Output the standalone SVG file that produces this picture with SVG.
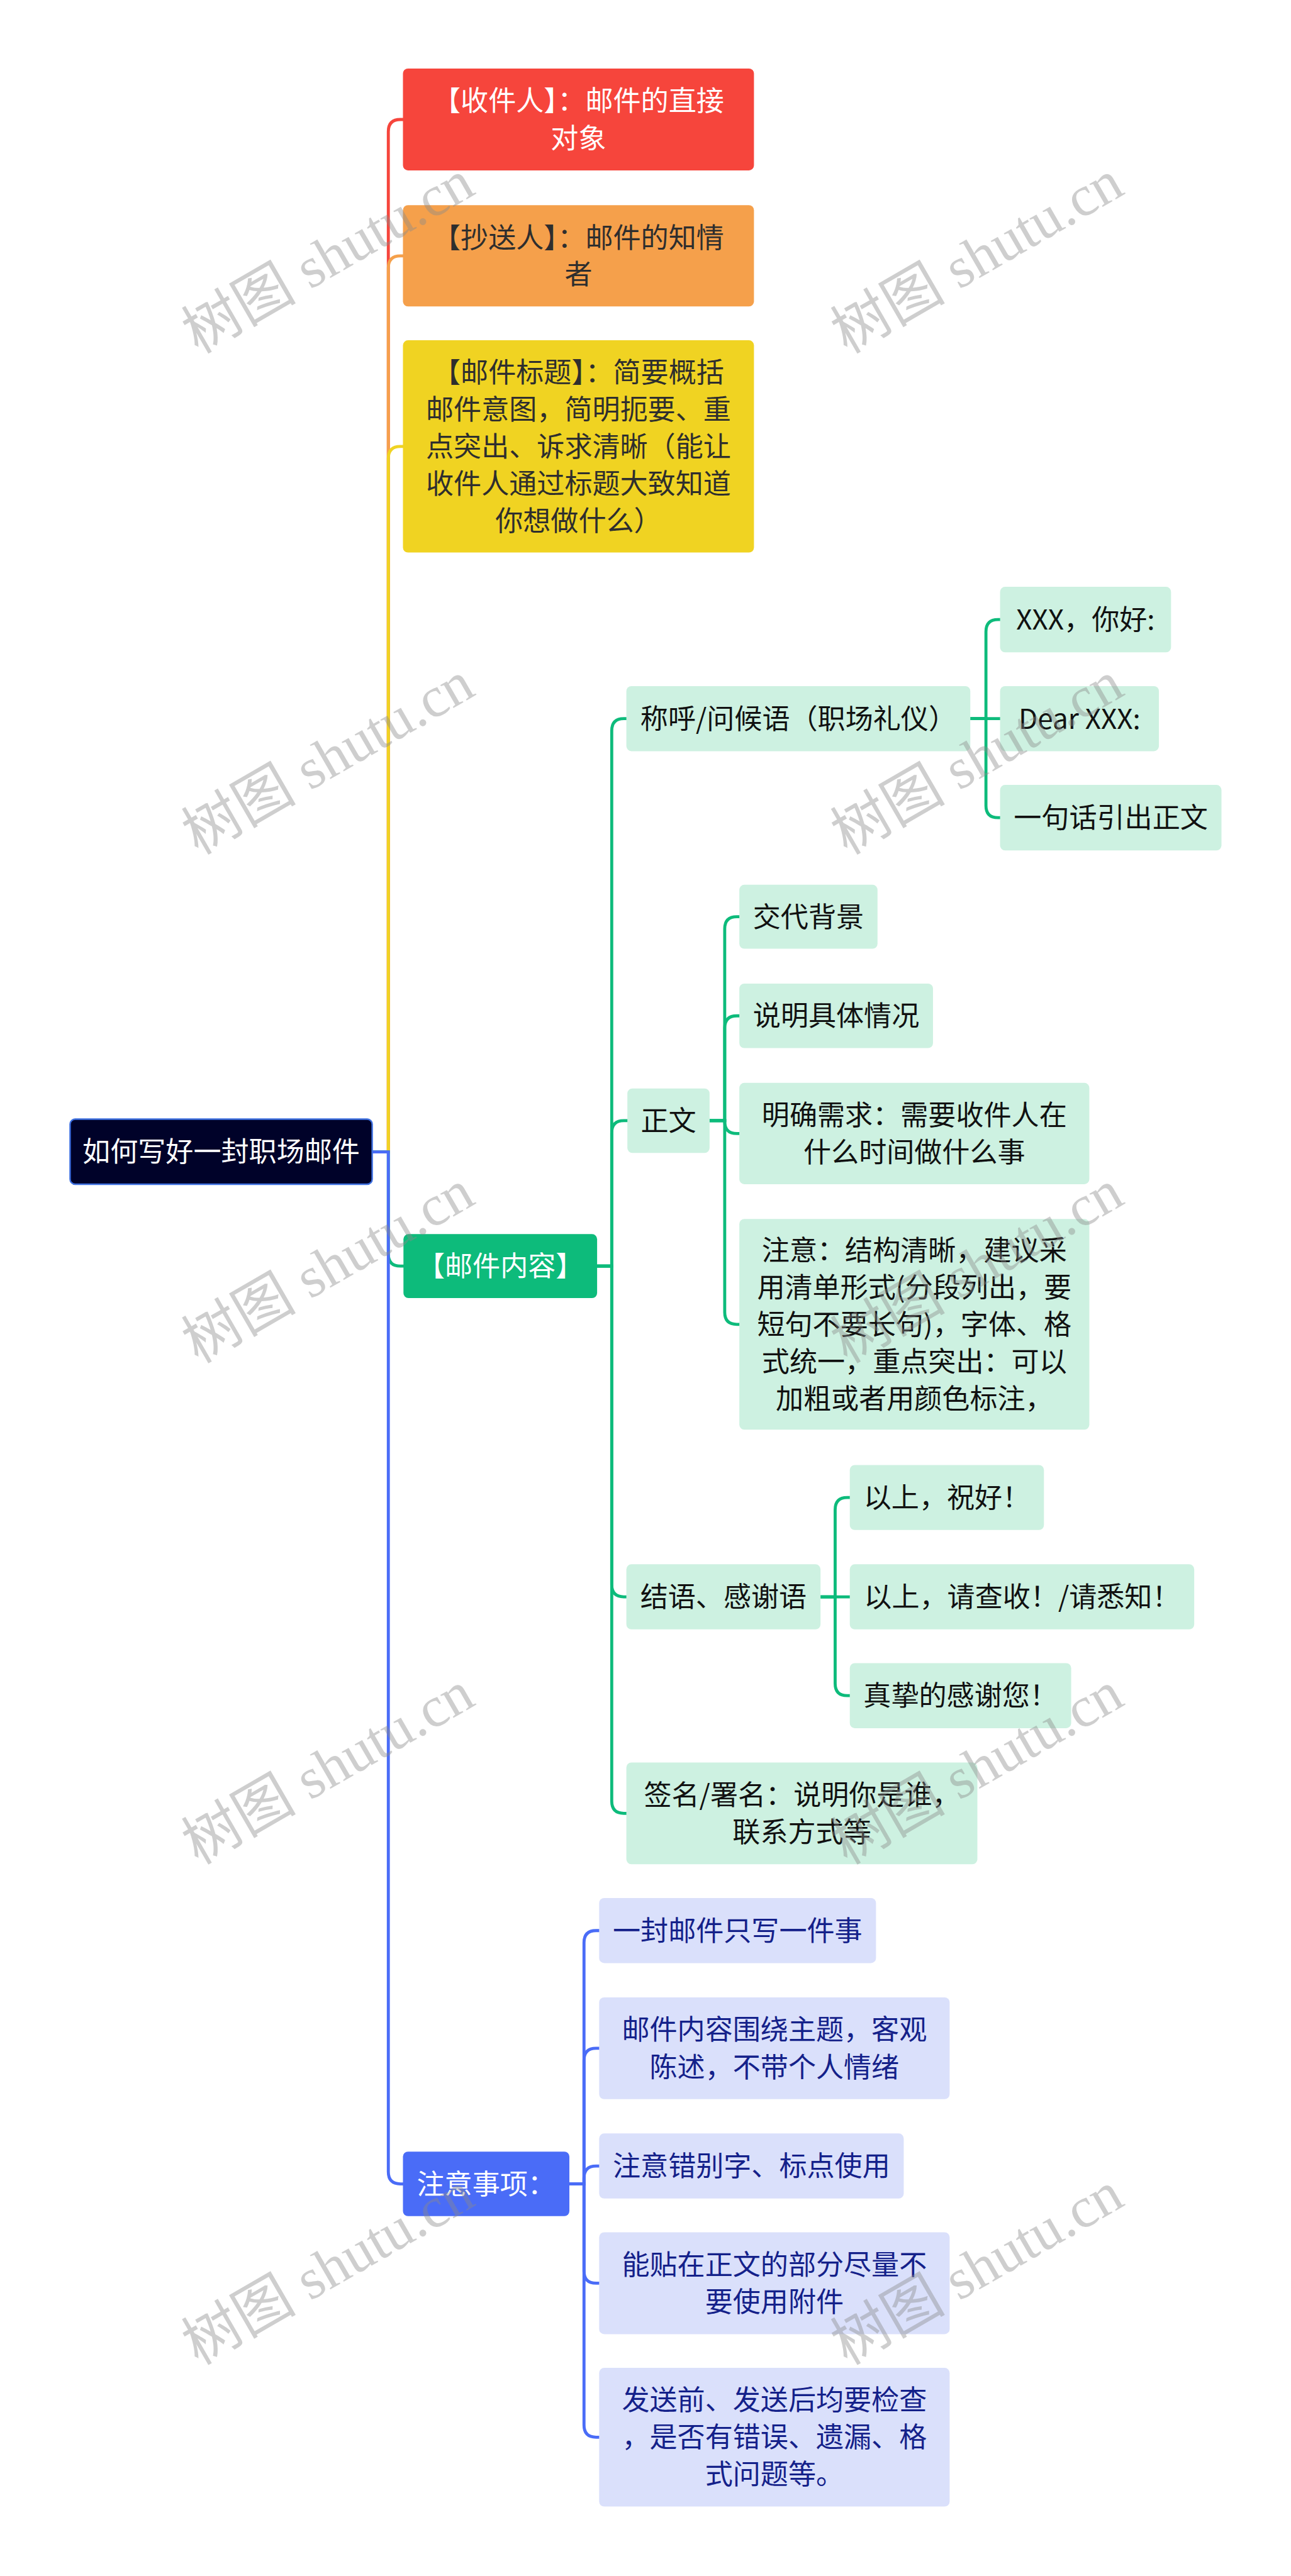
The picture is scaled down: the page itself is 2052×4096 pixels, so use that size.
<svg xmlns="http://www.w3.org/2000/svg" width="2052" height="4096" viewBox="0 0 2052 4096">
<style>
.t{font-family:"Noto Sans CJK SC","Noto Sans",sans-serif;font-size:55px;text-anchor:middle}
.w{fill:#ffffff}.d{fill:#2e2e2e}.k{fill:#111111}.n{fill:#14218a}
.c{fill:none;stroke-width:6}
.r{stroke:#f6453c}.o{stroke:#f5a04b}.y{stroke:#f0d322}.g{stroke:#0dbb7b}.b{stroke:#4a6cf7}
.lg{fill:#cdf1e1}.lb{fill:#dae0fb}
.wm{font-family:"Liberation Serif","Noto Sans CJK SC",serif;font-size:114px;fill:#8a8a8a;fill-opacity:0.42;text-anchor:middle}
</style>
<rect width="2052" height="4096" fill="#ffffff"/>
<g transform="scale(0.8016)">
<g id="connectors">
<path class="c r" d="M738 2285 H770 V261 Q770 237 794 237 H802"/>
<path class="c o" d="M738 2285 H770 V531.5 Q770 507.5 794 507.5 H802"/>
<path class="c y" d="M738 2285 H770 V909.5 Q770 885.5 794 885.5 H802"/>
<path class="c g" d="M738 2285 H770 V2487.5 Q770 2511.5 794 2511.5 H803"/>
<path class="c b" d="M738 2285 H770 V4308 Q770 4332 794 4332 H802"/>
<path class="c g" d="M1184 2511.5 H1213 V1449.5 Q1213 1425.5 1237 1425.5 H1245"/>
<path class="c g" d="M1184 2511.5 H1213 V2247 Q1213 2223 1237 2223 H1247"/>
<path class="c g" d="M1184 2511.5 H1213 V3143.5 Q1213 3167.5 1237 3167.5 H1245"/>
<path class="c g" d="M1184 2511.5 H1213 V3573 Q1213 3597 1237 3597 H1245"/>
<path class="c g" d="M1924 1425.5 H1955 V1253 Q1955 1229 1979 1229 H1986"/>
<path class="c g" d="M1924 1425.5 H1986"/>
<path class="c g" d="M1924 1425.5 H1955 V1598 Q1955 1622 1979 1622 H1986"/>
<path class="c g" d="M1407 2223 H1437 V1842.5 Q1437 1818.5 1461 1818.5 H1469"/>
<path class="c g" d="M1407 2223 H1437 V2039 Q1437 2015 1461 2015 H1469"/>
<path class="c g" d="M1407 2223 H1437 V2224.5 Q1437 2248.5 1461 2248.5 H1469"/>
<path class="c g" d="M1407 2223 H1437 V2603 Q1437 2627 1461 2627 H1469"/>
<path class="c g" d="M1627 3167.5 H1656 V2994.5 Q1656 2970.5 1680 2970.5 H1688"/>
<path class="c g" d="M1627 3167.5 H1688"/>
<path class="c g" d="M1627 3167.5 H1656 V3339.5 Q1656 3363.5 1680 3363.5 H1688"/>
<path class="c b" d="M1129 4332 H1158 V3853.5 Q1158 3829.5 1182 3829.5 H1191"/>
<path class="c b" d="M1129 4332 H1158 V4087 Q1158 4063 1182 4063 H1191"/>
<path class="c b" d="M1129 4332 H1158 V4320.5 Q1158 4296.5 1182 4296.5 H1191"/>
<path class="c b" d="M1129 4332 H1158 V4505 Q1158 4529 1182 4529 H1191"/>
<path class="c b" d="M1129 4332 H1158 V4810.5 Q1158 4834.5 1182 4834.5 H1191"/>
</g>
<g id="n-recipient"><rect x="799" y="136" width="696" height="202" rx="10" fill="#f6453c"/><text class="t w" x="1147" y="220">【收件人】：邮件的直接</text><text class="t w" x="1147" y="294">对象</text></g>
<g id="n-cc"><rect x="799" y="407" width="696" height="201" rx="10" fill="#f5a04b"/><text class="t d" x="1147" y="491">【抄送人】：邮件的知情</text><text class="t d" x="1147" y="564">者</text></g>
<g id="n-subject"><rect x="799" y="675" width="696" height="421" rx="10" fill="#f0d322"/><text class="t d" x="1147" y="758.5">【邮件标题】：简要概括</text><text class="t d" x="1147" y="832">邮件意图，简明扼要、重</text><text class="t d" x="1147" y="905.5">点突出、诉求清晰（能让</text><text class="t d" x="1147" y="979">收件人通过标题大致知道</text><text class="t d" x="1147" y="1052.5">你想做什么）</text></g>
<g id="n-root"><rect x="139" y="2220" width="599" height="129" rx="10" fill="#000229" stroke="#3d6fe0" stroke-width="3"/><text class="t w" x="438.5" y="2304.5">如何写好一封职场邮件</text></g>
<g id="n-content"><rect x="800" y="2448" width="384" height="127" rx="10" fill="#0dbb7b"/><text class="t w" x="992" y="2531.5">【邮件内容】</text></g>
<g id="n-notes"><rect x="799" y="4268" width="330" height="128" rx="10" fill="#4a6cf7"/><text class="t w" x="964" y="4352">注意事项：</text></g>
<g id="n-greeting"><rect class="lg" x="1242" y="1361" width="682" height="129" rx="10"/><text class="t k" x="1583" y="1445.5">称呼/问候语（职场礼仪）</text></g>
<g id="n-xxx"><rect class="lg" x="1983" y="1164" width="339" height="130" rx="10"/><text class="t k" x="2152.5" y="1249">XXX，你好:</text></g>
<g id="n-dear"><rect class="lg" x="1983" y="1361" width="315" height="129" rx="10"/><text class="t k" x="2140.5" y="1445.5">Dear XXX:</text></g>
<g id="n-lead"><rect class="lg" x="1983" y="1557" width="439" height="130" rx="10"/><text class="t k" x="2202.5" y="1642">一句话引出正文</text></g>
<g id="n-body"><rect class="lg" x="1244" y="2159" width="163" height="128" rx="10"/><text class="t k" x="1325.5" y="2243">正文</text></g>
<g id="n-bg"><rect class="lg" x="1466" y="1755" width="274" height="127" rx="10"/><text class="t k" x="1603" y="1838.5">交代背景</text></g>
<g id="n-detail"><rect class="lg" x="1466" y="1951" width="384" height="128" rx="10"/><text class="t k" x="1658" y="2035">说明具体情况</text></g>
<g id="n-need"><rect class="lg" x="1466" y="2148" width="694" height="201" rx="10"/><text class="t k" x="1813" y="2232">明确需求：需要收件人在</text><text class="t k" x="1813" y="2305">什么时间做什么事</text></g>
<g id="n-note"><rect class="lg" x="1466" y="2418" width="694" height="418" rx="10"/><text class="t k" x="1813" y="2500">注意：结构清晰，建议采</text><text class="t k" x="1813" y="2573.5">用清单形式(分段列出，要</text><text class="t k" x="1813" y="2647">短句不要长句)，字体、格</text><text class="t k" x="1813" y="2720.5">式统一，重点突出：可以</text><text class="t k" x="1813" y="2794">加粗或者用颜色标注，</text></g>
<g id="n-closing"><rect class="lg" x="1242" y="3103" width="385" height="129" rx="10"/><text class="t k" x="1434.5" y="3187.5">结语、感谢语</text></g>
<g id="n-regards"><rect class="lg" x="1685" y="2906" width="385" height="129" rx="10"/><text class="t k" x="1877.5" y="2990.5">以上，祝好！</text></g>
<g id="n-check"><rect class="lg" x="1685" y="3103" width="683" height="129" rx="10"/><text class="t k" x="2026.5" y="3187.5">以上，请查收！/请悉知！</text></g>
<g id="n-thanks"><rect class="lg" x="1685" y="3299" width="439" height="129" rx="10"/><text class="t k" x="1904.5" y="3383.5">真挚的感谢您！</text></g>
<g id="n-sign"><rect class="lg" x="1242" y="3496" width="696" height="202" rx="10"/><text class="t k" x="1590" y="3580">签名/署名：说明你是谁，</text><text class="t k" x="1590" y="3654">联系方式等</text></g>
<g id="n-one"><rect class="lb" x="1188" y="3765" width="549" height="129" rx="10"/><text class="t n" x="1462.5" y="3849.5">一封邮件只写一件事</text></g>
<g id="n-topic"><rect class="lb" x="1188" y="3962" width="695" height="202" rx="10"/><text class="t n" x="1535.5" y="4046">邮件内容围绕主题，客观</text><text class="t n" x="1535.5" y="4120">陈述，不带个人情绪</text></g>
<g id="n-typo"><rect class="lb" x="1188" y="4232" width="604" height="129" rx="10"/><text class="t n" x="1490" y="4316.5">注意错别字、标点使用</text></g>
<g id="n-attach"><rect class="lb" x="1188" y="4428" width="695" height="202" rx="10"/><text class="t n" x="1535.5" y="4512">能贴在正文的部分尽量不</text><text class="t n" x="1535.5" y="4586">要使用附件</text></g>
<g id="n-send"><rect class="lb" x="1188" y="4697" width="695" height="275" rx="10"/><text class="t n" x="1535.5" y="4781">发送前、发送后均要检查</text><text class="t n" x="1535.5" y="4854.5">，是否有错误、遗漏、格</text><text class="t n" x="1535.5" y="4928">式问题等。</text></g>
<g id="watermark">
<text class="wm" x="651" y="548" transform="rotate(-30 651 511)">树图 shutu.cn</text>
<text class="wm" x="1938" y="548" transform="rotate(-30 1938 511)">树图 shutu.cn</text>
<text class="wm" x="651" y="1542" transform="rotate(-30 651 1505)">树图 shutu.cn</text>
<text class="wm" x="1938" y="1542" transform="rotate(-30 1938 1505)">树图 shutu.cn</text>
<text class="wm" x="651" y="2551" transform="rotate(-30 651 2514)">树图 shutu.cn</text>
<text class="wm" x="1938" y="2551" transform="rotate(-30 1938 2514)">树图 shutu.cn</text>
<text class="wm" x="651" y="3545" transform="rotate(-30 651 3508)">树图 shutu.cn</text>
<text class="wm" x="1938" y="3545" transform="rotate(-30 1938 3508)">树图 shutu.cn</text>
<text class="wm" x="651" y="4538" transform="rotate(-30 651 4501)">树图 shutu.cn</text>
<text class="wm" x="1938" y="4538" transform="rotate(-30 1938 4501)">树图 shutu.cn</text>
</g>
</g>
</svg>
